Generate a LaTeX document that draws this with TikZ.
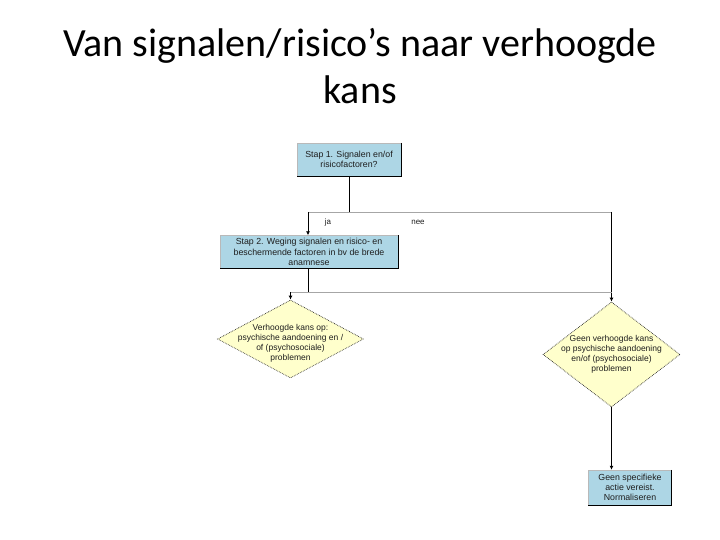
\documentclass[tikz,border=0pt]{standalone}
\usepackage{fontspec}
\setmainfont{Carlito}
\newfontfamily\diagfont{Liberation Sans}
\usetikzlibrary{shapes.geometric,arrows.meta}
\definecolor{boxblue}{RGB}{173,214,229}
\definecolor{diayellow}{RGB}{255,255,204}
\definecolor{txtgrey}{RGB}{30,30,30}
\tikzset{
  stepbox/.style={rectangle, draw=gray!55, fill=boxblue, inner sep=0pt, align=center,
    text=txtgrey, font=\diagfont\fontsize{8.8}{10.2}\selectfont},
  decision/.style={diamond, draw=black!85, line width=0.7pt, densely dotted, fill=diayellow, inner sep=0pt},
  dtext/.style={inner sep=0pt, align=center, text=txtgrey, font=\diagfont\fontsize{8.5}{10}\selectfont},
  conn/.style={draw=black, line width=0.8pt},
  greyline/.style={draw=gray!70, line width=0.8pt},
  arr/.style={conn, -{Latex[length=4pt,width=4pt]}},
  lbl/.style={font=\diagfont\fontsize{8}{9}\selectfont, inner sep=0pt, text=txtgrey},
  titlefont/.style={font=\fontsize{40}{48}\selectfont, inner sep=0pt}
}
\begin{document}
\begin{tikzpicture}[x=1pt,y=-1pt]
\useasboundingbox (0,0) rectangle (720,540);
% title
\node[titlefont, anchor=base] (t1) at (360,57) {Van signalen/risico’s naar verhoogde};
\node[titlefont, anchor=base] (t2) at (360,104) {kans};
% boxes
\node[stepbox, minimum width=104pt, minimum height=33pt] (b1) at (349,159.5) {Stap 1. Signalen en/of\\risicofactoren?};
\draw[conn] (b1.north east) -- (b1.south east) -- (b1.south west);
\node[stepbox, minimum width=178pt, minimum height=33pt] (b2) at (309,252) {Stap 2. Weging signalen en risico- en\\beschermende factoren in bv de brede\\anamnese};
\draw[conn] (b2.north east) -- (b2.south east) -- (b2.south west);
\node[decision, minimum width=146pt, minimum height=78pt] (d1) at (290.5,339) {};
\node[dtext] (d1t) at ([yshift=-4pt]d1.center) {Verhoogde kans op:\\psychische aandoening en /\\of (psychosociale)\\problemen};
\node[decision, minimum width=137pt, minimum height=105pt] (d2) at (611.5,354.5) {};
\node[dtext] (d2t) at (d2.center) {Geen verhoogde kans\\op psychische aandoening\\en/of (psychosociale)\\problemen};
\node[stepbox, minimum width=83pt, minimum height=35pt] (b3) at (630,487.5) {Geen specifieke\\actie vereist.\\Normaliseren};
\draw[conn] (b3.north east) -- (b3.south east) -- (b3.south west);
% junctions
\coordinate (j1) at (349,212);
\coordinate (jl) at (308,212);
\coordinate (jr) at (611.5,212);
\coordinate (k1) at (308,292);
\coordinate (kl) at (290.5,292);
\coordinate (kr) at (611.5,292);
% connectors
\draw[conn] (b1.south) -- (j1);
\draw[greyline] (jl) -- (jr);
\draw[arr] (jl) -- (jl |- b2.north);
\draw[arr] (jr) -- (d2.north);
\draw[conn] (k1 |- b2.south) -- (k1);
\draw[greyline] (kl) -- (kr);
\draw[arr] (kl) -- (d1.north);
\draw[arr] (d2.south) -- (d2.south |- b3.north);
% labels
\node[lbl] (ja) at (328,222) {ja};
\node[lbl] (nee) at (418,222) {nee};
\end{tikzpicture}
\end{document}
